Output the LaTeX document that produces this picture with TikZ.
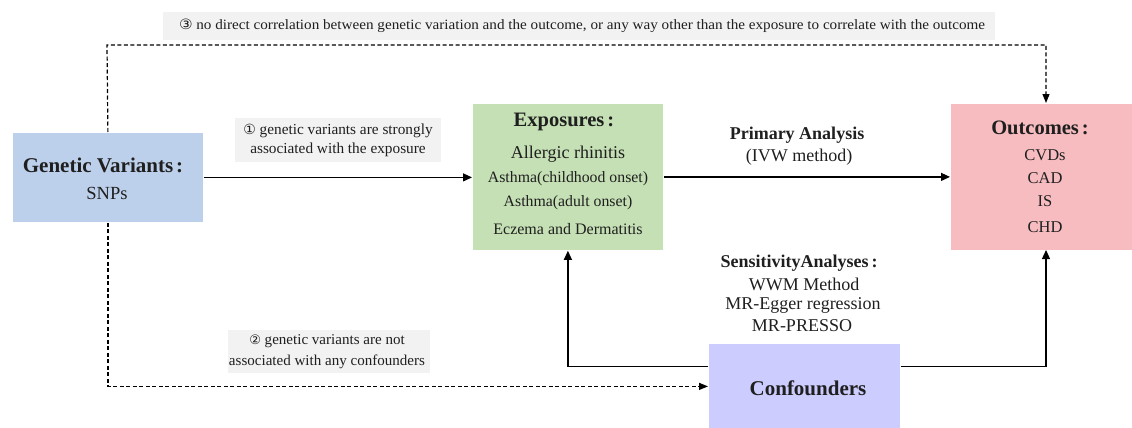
\documentclass[tikz,border=0pt]{standalone}
\usepackage{fontspec}
\setmainfont{Liberation Serif}
\newfontfamily\symfont{DejaVu Sans}
\usetikzlibrary{arrows.meta}
\definecolor{gvblue}{RGB}{189,208,235}
\definecolor{expgreen}{RGB}{197,224,180}
\definecolor{outpink}{RGB}{246,188,192}
\definecolor{conflav}{RGB}{204,204,255}
\definecolor{labgray}{RGB}{242,242,242}
\newcommand{\fcolon}{\hspace{3pt}:}
\begin{document}
\begin{tikzpicture}[x=1pt,y=-1pt,
  boxnode/.style={draw=white,line width=0.8pt,inner sep=0pt,anchor=north west},
  txt/.style={inner sep=0pt,text=black!88},
  labbox/.style={fill=labgray,inner sep=0pt,anchor=north west},
  solidarrow/.style={line width=1.2pt,-{Triangle[length=9pt,width=8pt]}},
  dashline/.style={line width=1.2pt,dash pattern=on 4pt off 2.5pt,-{Triangle[length=9pt,width=7pt]}}]
\useasboundingbox (0,0) rectangle (1132,428);
% boxes
\node[boxnode,fill=gvblue,minimum width=191pt,minimum height=90pt] (gv) at (12,132) {};
\node[boxnode,fill=expgreen,minimum width=191pt,minimum height=147pt] (exp) at (472,103) {};
\node[boxnode,fill=outpink,minimum width=183pt,minimum height=147pt] (out) at (950,103) {};
\node[boxnode,fill=conflav,minimum width=192pt,minimum height=86pt] (conf) at (708,343) {};
% label boxes
\node[labbox,minimum width=832pt,minimum height=28pt] (lab3) at (163,12) {};
\node[labbox,minimum width=206pt,minimum height=44pt] (lab1) at (235,118) {};
\node[labbox,minimum width=202pt,minimum height=43pt] (lab2) at (228,330) {};
% texts in boxes
\node[txt,font=\fontsize{21}{24}\selectfont\bfseries] (gvt) at (103,165) {Genetic Variants\fcolon};
\node[txt,font=\fontsize{18.5}{21}\selectfont] (gvs) at (107,193) {SNPs};
\node[txt,font=\fontsize{20.5}{24}\selectfont\bfseries] (expt) at (564,122) {Exposures\fcolon};
\node[txt,font=\fontsize{18}{21}\selectfont] (exp1) at (568,154) {Allergic rhinitis};
\node[txt,font=\fontsize{15.8}{19}\selectfont] (exp2) at (568,179) {Asthma(childhood onset)};
\node[txt,font=\fontsize{15.8}{19}\selectfont] (exp3) at (568,203) {Asthma(adult onset)};
\node[txt,font=\fontsize{16}{19}\selectfont] (exp4) at (568,229) {Eczema and Dermatitis};
\node[txt,font=\fontsize{20.5}{24}\selectfont\bfseries] (outt) at (1040,128) {Outcomes\fcolon};
\node[txt,font=\fontsize{16.5}{19}\selectfont] (out1) at (1045,155) {CVDs};
\node[txt,font=\fontsize{16.5}{19}\selectfont] (out2) at (1045,178) {CAD};
\node[txt,font=\fontsize{16.5}{19}\selectfont] (out3) at (1045,201) {IS};
\node[txt,font=\fontsize{16.5}{19}\selectfont] (out4) at (1045,227) {CHD};
\node[txt,font=\fontsize{21}{24}\selectfont\bfseries] (conft) at (808,388) {Confounders};
% label texts
\node[txt,font=\fontsize{15}{17}\selectfont] (lab3t) at (582,26) {\resizebox{806pt}{10.5pt}{{\symfont ③} no direct correlation between genetic variation and the outcome, or any way other than the exposure to correlate with the outcome}};
\node[txt,font=\fontsize{15.3}{19}\selectfont,align=center] (lab1t) at (338,140) {{\symfont\fontsize{14}{15}\selectfont ①} genetic variants are strongly\\associated with the exposure};
\node[txt,font=\fontsize{15}{19}\selectfont,align=center] (lab2t) at (327,351) {\resizebox{196pt}{!}{\begin{tabular}{@{}c@{}}{\symfont\fontsize{13}{15}\selectfont ②} genetic variants are not\\[2pt]associated with any confounders\end{tabular}}};
\node[txt,font=\fontsize{18}{21}\selectfont\bfseries] (pa) at (797,135) {Primary Analysis};
\node[txt,font=\fontsize{18}{21}\selectfont] (ivw) at (799,157) {(IVW method)};
\node[txt,font=\fontsize{18}{21}\selectfont\bfseries] (sa) at (799,263) {SensitivityAnalyses\,:};
\node[txt,font=\fontsize{18}{21}\selectfont] (sa1) at (804,284) {WWM Method};
\node[txt,font=\fontsize{18}{21}\selectfont] (sa2) at (803,305) {MR-Egger regression};
\node[txt,font=\fontsize{18}{21}\selectfont] (sa3) at (802,326) {MR-PRESSO};
% connectors
\coordinate (outtop) at (1046,103);
\coordinate (outbot) at (1046,250);
\draw[solidarrow] (gv.east) -- (gv.east -| exp.west);
\draw[solidarrow] (exp.east) -- (exp.east -| out.west);
\draw[dashline] (gv.north) -- (107,45) -| (outtop);
\draw[dashline] (gv.south) |- (conf.west);
\draw[solidarrow] ([yshift=20pt]conf.west) -| (exp.south);
\draw[solidarrow] ([yshift=20pt]conf.east) -| (outbot);
\end{tikzpicture}
\end{document}
